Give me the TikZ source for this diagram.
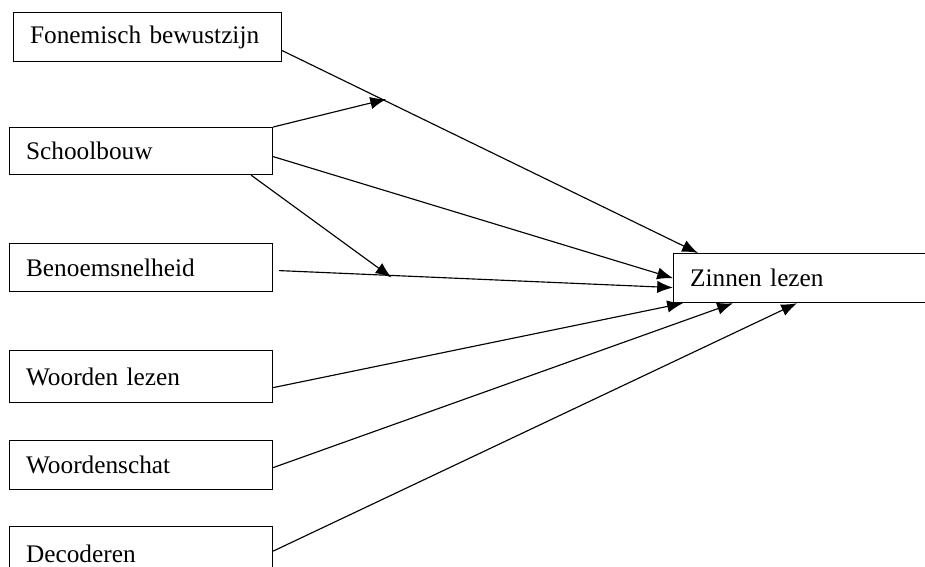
\documentclass[tikz,border=0pt]{standalone}
\usepackage{fontspec}
\setmainfont{Liberation Serif}
\usetikzlibrary{arrows.meta,calc}

\begin{document}
\begin{tikzpicture}[x=0.02cm,y=-0.02cm,
    box/.style={draw,line width=0.7pt,anchor=north west,align=left,inner xsep=0.33cm,inner ysep=0pt,
        font=\fontsize{14.4}{17}\selectfont},
    arr/.style={-{Latex[length=9pt,width=7pt]},line width=0.65pt}]
        \useasboundingbox (0,0) rectangle (925,567);
        \clip (0,0) rectangle (925,567);
        \node[box,text width=4.7cm,minimum height=0.98cm](fon) at (13,12){Fonemisch bewustzijn};
        \node[box,text width=4.6cm,minimum height=0.94cm](sch) at (9,127){Schoolbouw};
        \node[box,text width=4.6cm,minimum height=0.96cm](ben) at (9,243){Benoemsnelheid};
        \node[box,text width=4.6cm,minimum height=1.04cm](wle) at (9,350){Woorden lezen};
        \node[box,text width=4.6cm,minimum height=0.98cm](wsc) at (9,440){Woordenschat};
        \node[box,text width=4.6cm,minimum height=1.1cm](dec) at (9,526){Decoderen};
        \node[box,text width=4.7cm,minimum height=0.98cm](zin) at (673,253){Zinnen lezen};
        % direct paths
        \draw[arr]([yshift=-0.27cm]fon.east)--([xshift=0.5cm]zin.north west)coordinate[pos=0.25](m1);
        \draw[arr]([yshift=-0.11cm]sch.east)--(zin.west);
        \draw[arr]([xshift=0.12cm,yshift=-0.06cm]ben.east)--([yshift=-0.19cm]zin.west)coordinate[pos=0.285](m2);
        \draw[arr]([yshift=-0.22cm]wle.east)--([xshift=0.2cm]zin.south west);
        \draw[arr]([yshift=-0.05cm]wsc.east)--([xshift=1.2cm]zin.south west);
        \draw[arr]([yshift=0.06cm]dec.east)--([xshift=2.48cm]zin.south west);
        % moderation by Schoolbouw
        \draw[arr](sch.north east)--([yshift=0.04cm]m1);
        \draw[arr]([xshift=-0.44cm]sch.south east)--([yshift=-0.04cm]m2);
    \end{tikzpicture}
\end{document}
